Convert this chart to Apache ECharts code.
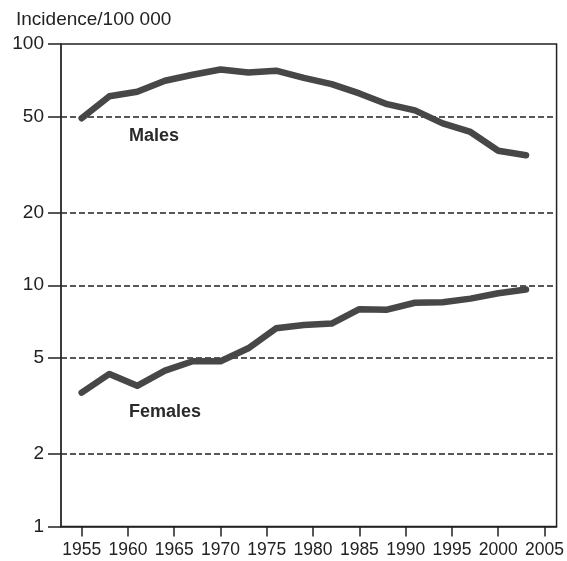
<!DOCTYPE html>
<html>
<head>
<meta charset="utf-8">
<script src="https://cdn.jsdelivr.net/npm/echarts@6/dist/echarts.min.js"></script>
<style>
  html, body { margin: 0; padding: 0; background: #fff; }
  #chart { width: 567px; height: 561px; }
</style>
</head>
<body>
<div id="chart"></div>
<script>
// Incidence per 100 000, three-year points
const years = [1955, 1958, 1961, 1964, 1967, 1970, 1973, 1976, 1979, 1982, 1985, 1988, 1991, 1994, 1997, 2000, 2003];
const males = [49.2, 60.7, 63.4, 70.4, 74.6, 78.4, 76.2, 77.5, 72.4, 68.2, 62.4, 56.3, 53.1, 46.9, 43.2, 36.1, 34.6];
const females = [3.59, 4.29, 3.83, 4.43, 4.84, 4.84, 5.48, 6.63, 6.84, 6.94, 7.96, 7.92, 8.46, 8.51, 8.80, 9.27, 9.60];

const xTicks = [1955, 1960, 1965, 1970, 1975, 1980, 1985, 1990, 1995, 2000, 2005];
const yTicks = [1, 2, 5, 10, 20, 50, 100];

const pairs = (xs, ys) => xs.map((x, i) => [x, ys[i]]);

const chart = echarts.init(document.getElementById('chart'), null, { renderer: 'canvas' });

const lineStyle = { color: '#474747', width: 6.5, cap: 'round', join: 'round' };
const font = 'Liberation Sans, Arial, Helvetica, sans-serif';

chart.setOption({
  animation: false,
  backgroundColor: '#ffffff',
  title: {
    text: 'Incidence/100 000',
    left: 11,
    top: 5,
    textStyle: { fontFamily: font, fontSize: 19, fontWeight: 'normal', color: '#222' }
  },
  grid: {
    left: 61, top: 44, right: 10, bottom: 34.5,
    show: true, borderColor: '#222', borderWidth: 1.5, backgroundColor: 'transparent'
  },
  xAxis: {
    type: 'value',
    min: 1952.77,
    max: 2006.3,
    axisLine: { show: true, onZero: false, lineStyle: { color: '#222', width: 1.5 } },
    axisTick: { show: true, length: 10, customValues: xTicks, lineStyle: { color: '#222', width: 1.5 } },
    axisLabel: {
      customValues: xTicks, margin: 15,
      formatter: v => String(v),
      fontFamily: font, fontSize: 17.5, color: '#222'
    },
    splitLine: { show: false }
  },
  yAxis: {
    type: 'log',
    logBase: 10,
    min: 1,
    max: 100,
    axisLine: { show: true, lineStyle: { color: '#333', width: 1.5 } },
    axisTick: { show: true, length: 13, customValues: yTicks, lineStyle: { color: '#222', width: 1.5 } },
    axisLabel: {
      customValues: yTicks, margin: 17,
      formatter: v => String(v),
      fontFamily: font, fontSize: 19, color: '#222'
    },
    splitLine: {
      show: true, showMinLine: false, showMaxLine: false,
      lineStyle: { color: '#222', width: 1.5, type: [6, 3] }
    }
  },
  series: [
    {
      name: 'Males', type: 'line', data: pairs(years, males),
      symbol: 'none', lineStyle: lineStyle, z: 3
    },
    {
      name: 'Females', type: 'line', data: pairs(years, females),
      symbol: 'none', lineStyle: lineStyle, z: 3
    }
  ],
  graphic: [
    {
      type: 'text', left: 129, top: 127,
      style: { text: 'Males', fontFamily: font, fontSize: 18, fontWeight: 'bold', fill: '#2a2a2a' }
    },
    {
      type: 'text', left: 129, top: 403,
      style: { text: 'Females', fontFamily: font, fontSize: 18, fontWeight: 'bold', fill: '#2a2a2a' }
    }
  ]
});
</script>
</body>
</html>
